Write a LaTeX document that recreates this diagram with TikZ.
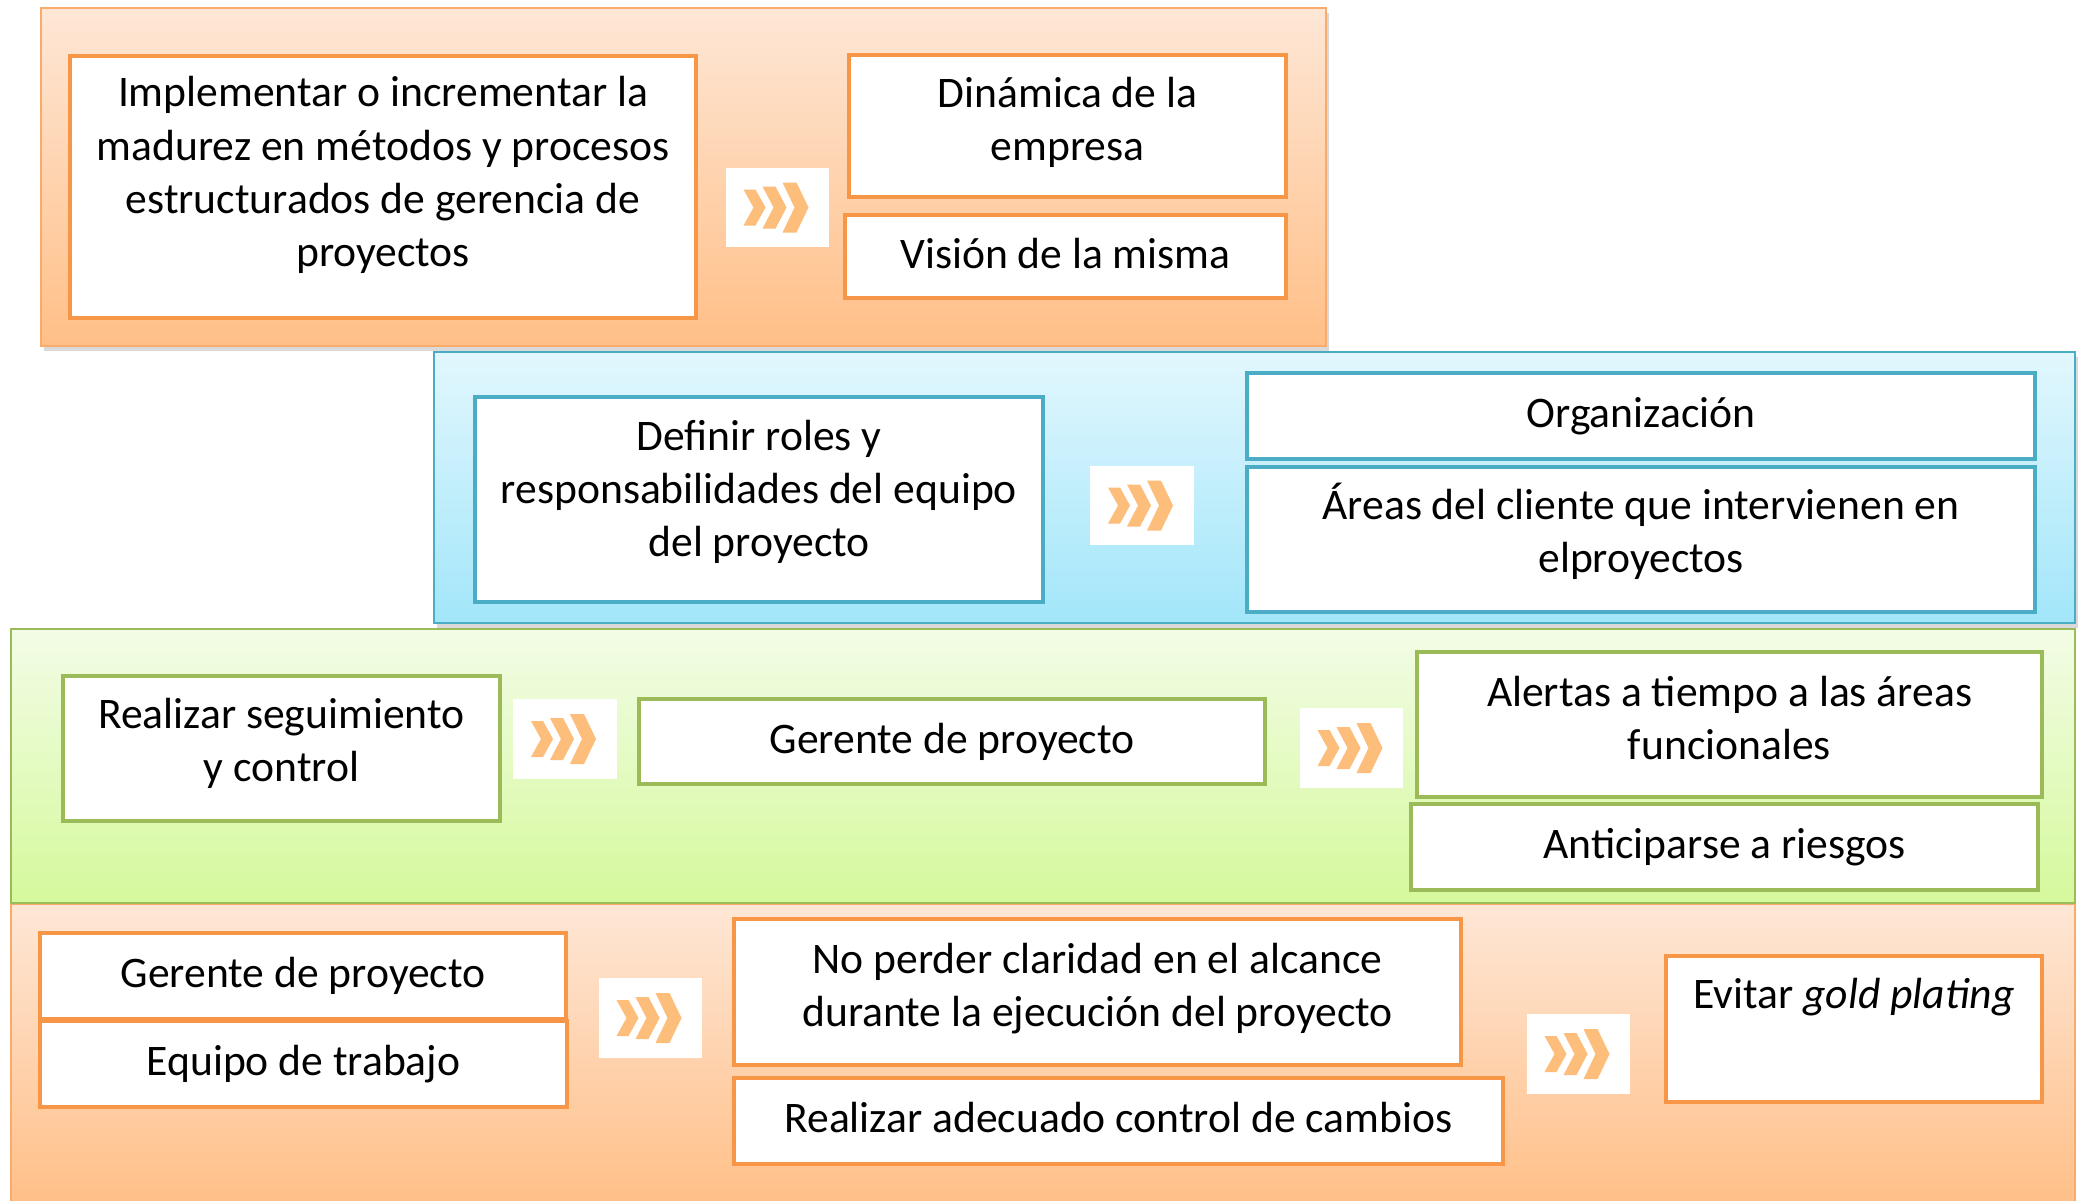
\documentclass[tikz,border=0pt]{standalone}
\usepackage{fontspec}
\setmainfont{Carlito}
\usetikzlibrary{positioning,shadows}

\definecolor{orangeline}{HTML}{F79646}
\definecolor{blueline}{HTML}{4BACC6}
\definecolor{greenline}{HTML}{9BBB59}
\definecolor{peachtop}{HTML}{FEE7D6}
\definecolor{peachbot}{HTML}{FFBF87}
\definecolor{skytop}{HTML}{E2F7FD}
\definecolor{skybot}{HTML}{A2E6FA}
\definecolor{limetop}{HTML}{F3FCE6}
\definecolor{limebot}{HTML}{D5F99C}
\definecolor{chevorange}{HTML}{FDBD7B}

\begin{document}
\begin{tikzpicture}[
  x=0.01cm, y=-0.01cm,
  every node/.style={font=\fontsize{12.4}{15.1}\selectfont, align=center},
  band/.style={line width=0.7pt},
  shade/.style={drop shadow={opacity=0.3, shadow xshift=0.03cm, shadow yshift=-0.05cm}},
  box/.style={draw, fill=white, line width=1.2pt, inner sep=2pt},
  obox/.style={box, draw=orangeline},
  bbox/.style={box, draw=blueline},
  gbox/.style={box, draw=greenline},
  arrbox/.style={fill=white, minimum width=1.03cm, minimum height=0.79cm, inner sep=0pt},
  chevrons/.pic={
    \foreach \a/\t/\d/\h in {-34/12/10/18, -15/13/11/21, 5/14/12/25}
      \fill[chevorange] (\a,-\h) -- ++(\t,0) -- ++(\d,\h) -- ++(-\d,\h) -- ++(-\t,0) -- ++(\d,-\h) -- cycle;
  }
]
\useasboundingbox (0,0) rectangle (2086,1200);

\path[band, draw=orangeline!80, top color=peachtop, bottom color=peachbot] (11,904) rectangle (2075,1206);
\path[band, draw=greenline, top color=limetop, bottom color=limebot] (11,629) rectangle (2075,903);
\path[band, shade, draw=blueline, top color=skytop, bottom color=skybot] (434,352) rectangle (2075,623);
\path[band, shade, draw=orangeline!80, top color=peachtop, bottom color=peachbot] (41,8) rectangle (1326,346);

\node[obox, minimum width=6.26cm, minimum height=2.62cm, text depth=0.31cm] (implementar) at (383,187) {Implementar o incrementar la\\madurez en métodos y procesos\\estructurados de gerencia de\\proyectos};
\node[arrbox] (flechaA) at (777.5,207.5) {};
\pic at (flechaA) {chevrons};
\node[obox, minimum width=4.37cm, minimum height=1.42cm, text depth=0.15cm] (dinamica) at (1067.5,126) {Dinámica de la\\empresa};
\node[obox, minimum width=4.41cm, minimum height=0.83cm, text depth=0.07cm] (vision) at (1065.5,256.5) {Visión de la misma};

\node[bbox, minimum width=5.68cm, minimum height=2.05cm, text depth=0.23cm] (roles) at (759,499.5) {Definir roles y\\responsabilidades del equipo\\del proyecto};
\node[arrbox] (flechaB) at (1142,505.5) {};
\pic at (flechaB) {chevrons};
\node[bbox, minimum width=7.88cm, minimum height=0.86cm] (organizacion) at (1641,416) {Organización};
\node[bbox, minimum width=7.88cm, minimum height=1.45cm, text depth=0.23cm] (areas) at (1641,539.5) {Áreas del cliente que intervienen en\\elproyectos};

\node[gbox, minimum width=4.37cm, minimum height=1.45cm, text depth=0.17cm] (seguimiento) at (281.5,748.5) {Realizar seguimiento\\y control};
\node[arrbox] (flechaC) at (565,739) {};
\pic at (flechaC) {chevrons};
\node[gbox, minimum width=6.26cm, minimum height=0.85cm] (gerente) at (952,741.5) {Gerente de proyecto};
\node[arrbox] (flechaD) at (1351.5,748) {};
\pic at (flechaD) {chevrons};
\node[gbox, minimum width=6.25cm, minimum height=1.45cm, text depth=0.14cm] (alertas) at (1729.5,724.5) {Alertas a tiempo a las áreas\\funcionales};
\node[gbox, minimum width=6.27cm, minimum height=0.86cm] (riesgos) at (1724.5,847) {Anticiparse a riesgos};

\node[obox, minimum width=5.26cm, minimum height=0.86cm] (gerenteB) at (303,976) {Gerente de proyecto};
\node[obox, minimum width=5.27cm, minimum height=0.86cm] (equipo) at (303.5,1064) {Equipo de trabajo};
\node[arrbox] (flechaE) at (650.5,1018) {};
\pic at (flechaE) {chevrons};
\node[obox, minimum width=7.27cm, minimum height=1.46cm, text depth=0.15cm] (alcance) at (1097.5,992) {No perder claridad en el alcance\\durante la ejecución del proyecto};
\node[obox, minimum width=7.69cm, minimum height=0.86cm, text depth=0.07cm] (cambios) at (1118.5,1121) {Realizar adecuado control de cambios};
\node[arrbox] (flechaF) at (1578.5,1054) {};
\pic at (flechaF) {chevrons};
\node[obox, minimum width=3.76cm, minimum height=1.46cm, anchor=north, text height=0.42cm, text depth=0.84cm, inner ysep=0.1cm] (plating) at (1854,954) {Evitar \textit{gold plating}};

\end{tikzpicture}
\end{document}
